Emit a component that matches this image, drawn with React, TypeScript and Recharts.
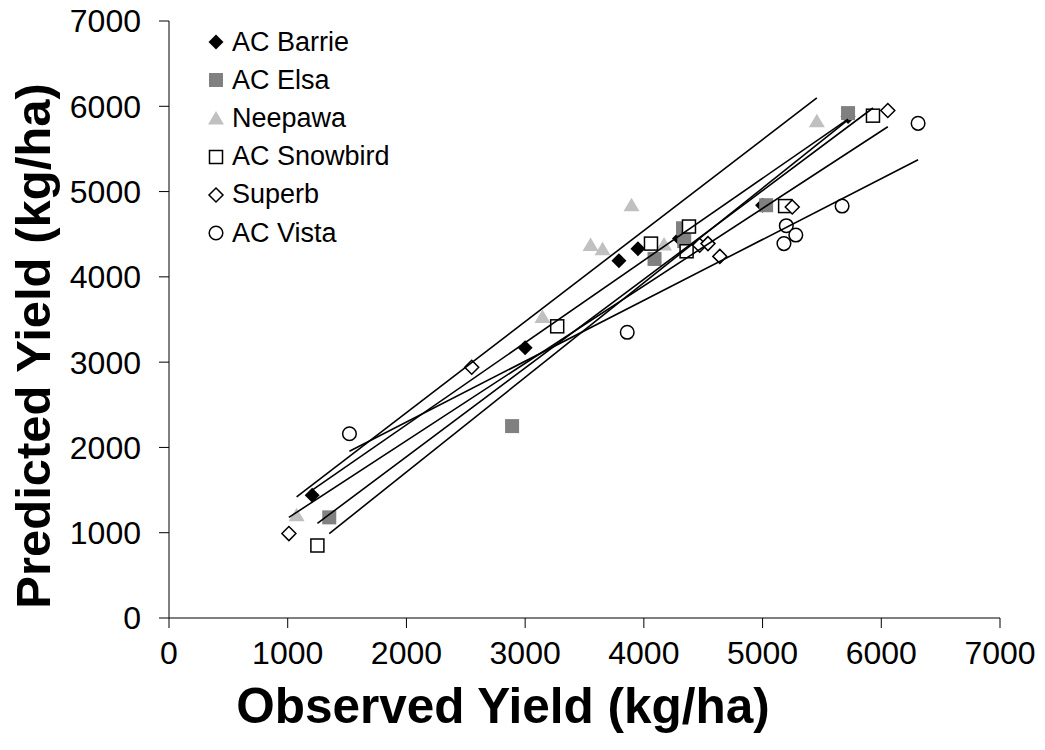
import React from 'react';
import { ScatterChart, Scatter, XAxis, YAxis, Label } from 'recharts';

// observed vs predicted yield, kg/ha
const axisTicks = [0, 1000, 2000, 3000, 4000, 5000, 6000, 7000];

const barrie = [
  { x: 1206, y: 1440 }, { x: 3000, y: 3170 }, { x: 3790, y: 4190 }, { x: 3950, y: 4330 },
  { x: 4300, y: 4450 }, { x: 5000, y: 4840 }, { x: 5720, y: 5880 },
];
const elsa = [
  { x: 1350, y: 1180 }, { x: 2890, y: 2250 }, { x: 4090, y: 4210 }, { x: 4340, y: 4420 },
  { x: 4330, y: 4570 }, { x: 5030, y: 4840 }, { x: 5720, y: 5920 },
];
const neepawa = [
  { x: 1075, y: 1210 }, { x: 3146, y: 3535 }, { x: 3551, y: 4378 }, { x: 3652, y: 4331 },
  { x: 3896, y: 4846 }, { x: 4170, y: 4385 }, { x: 5457, y: 5830 },
];
const snowbird = [
  { x: 1250, y: 850 }, { x: 3270, y: 3420 }, { x: 4060, y: 4390 }, { x: 4380, y: 4590 },
  { x: 4360, y: 4300 }, { x: 5190, y: 4830 }, { x: 5930, y: 5890 },
];
const superb = [
  { x: 1010, y: 990 }, { x: 2550, y: 2940 }, { x: 4470, y: 4370 }, { x: 4540, y: 4390 },
  { x: 4640, y: 4240 }, { x: 5250, y: 4820 }, { x: 6055, y: 5950 },
];
const vista = [
  { x: 1520, y: 2160 }, { x: 3860, y: 3350 }, { x: 5180, y: 4390 }, { x: 5200, y: 4600 },
  { x: 5280, y: 4490 }, { x: 5670, y: 4830 }, { x: 6310, y: 5800 },
];

// linear trend lines (start / end of each fit)
const barrieFit = [{ x: 1206, y: 1500 }, { x: 5720, y: 5850 }];
const elsaFit = [{ x: 1350, y: 990 }, { x: 5720, y: 5840 }];
const neepawaFit = [{ x: 1075, y: 1420 }, { x: 5457, y: 6098 }];
const snowbirdFit = [{ x: 1250, y: 1110 }, { x: 5930, y: 5980 }];
const superbFit = [{ x: 1010, y: 1180 }, { x: 6055, y: 5760 }];
const vistaFit = [{ x: 1520, y: 1955 }, { x: 6310, y: 5373 }];

const FONT = '"Liberation Sans", Arial, sans-serif';

type Kind = 'diamondFilled' | 'squareFilled' | 'triangle' | 'squareOpen' | 'diamondOpen' | 'circle';

const series: { name: string; data: { x: number; y: number }[]; fit: { x: number; y: number }[]; kind: Kind }[] = [
  { name: 'AC Barrie', data: barrie, fit: barrieFit, kind: 'diamondFilled' },
  { name: 'AC Elsa', data: elsa, fit: elsaFit, kind: 'squareFilled' },
  { name: 'Neepawa', data: neepawa, fit: neepawaFit, kind: 'triangle' },
  { name: 'AC Snowbird', data: snowbird, fit: snowbirdFit, kind: 'squareOpen' },
  { name: 'Superb', data: superb, fit: superbFit, kind: 'diamondOpen' },
  { name: 'AC Vista', data: vista, fit: vistaFit, kind: 'circle' },
];

const Marker = ({ cx, cy, kind }: { cx: number; cy: number; kind: Kind }) => {
  if (cx == null || cy == null) return <g />;
  switch (kind) {
    case 'diamondFilled':
      return <path d={`M${cx},${cy - 7.5}L${cx + 7.5},${cy}L${cx},${cy + 7.5}L${cx - 7.5},${cy}Z`} fill="#000" />;
    case 'squareFilled':
      return <rect x={cx - 7} y={cy - 7} width={14} height={14} fill="#808080" />;
    case 'triangle':
      return <path d={`M${cx},${cy - 7}L${cx + 8},${cy + 6.5}L${cx - 8},${cy + 6.5}Z`} fill="#c0c0c0" />;
    case 'squareOpen':
      return <rect x={cx - 6.5} y={cy - 6.5} width={13} height={13} fill="#fff" stroke="#000" strokeWidth={1.5} />;
    case 'diamondOpen':
      return (
        <path d={`M${cx},${cy - 7}L${cx + 7},${cy}L${cx},${cy + 7}L${cx - 7},${cy}Z`} fill="#fff" stroke="#000" strokeWidth={1.5} />
      );
    default:
      return <circle cx={cx} cy={cy} r={6.8} fill="#fff" stroke="#000" strokeWidth={1.5} />;
  }
};

const tickStyle = { fontSize: 32, fontFamily: FONT, fill: '#000' };

export default function App() {
  return (
    <div style={{ position: 'relative', width: 1045, height: 750, background: '#fff' }}>
      <style>{`body{margin:0;}`}</style>
      <ScatterChart width={1045} height={750} margin={{ top: 21, right: 45, bottom: 0, left: 0 }}>
        <XAxis
          type="number"
          dataKey="x"
          domain={[0, 7000]}
          ticks={axisTicks}
          interval={0}
          height={132}
          tickSize={10}
          tickMargin={13}
          tick={tickStyle}
          axisLine={{ stroke: '#000' }}
          tickLine={{ stroke: '#000' }}
        >
          <Label
            content={() => (
              <text x={503} y={723} textAnchor="middle" fontFamily={FONT} fontSize={49.5} fontWeight="bold" fill="#000">
                Observed Yield (kg/ha)
              </text>
            )}
          />
        </XAxis>
        <YAxis
          type="number"
          dataKey="y"
          domain={[0, 7000]}
          ticks={axisTicks}
          interval={0}
          width={169}
          tickSize={10}
          tickMargin={18}
          tick={tickStyle}
          axisLine={{ stroke: '#000' }}
          tickLine={{ stroke: '#000' }}
        >
          <Label
            content={() => (
              <text
                x={50}
                y={346}
                transform="rotate(-90 50 346)"
                textAnchor="middle"
                fontFamily={FONT}
                fontSize={49}
                fontWeight="bold"
                fill="#000"
              >
                Predicted Yield (kg/ha)
              </text>
            )}
          />
        </YAxis>

        {series.map((s) => (
          <Scatter
            key={s.name}
            name={s.name}
            data={s.data}
            isAnimationActive={false}
            shape={(p: any) => <Marker cx={p.cx} cy={p.cy} kind={s.kind} />}
          />
        ))}

        {series.map((s) => (
          <Scatter
            key={s.name + '-fit'}
            data={s.fit}
            isAnimationActive={false}
            line={{ stroke: '#000', strokeWidth: 1.6 }}
            shape={() => <g />}
            legendType="none"
          />
        ))}
      </ScatterChart>

      {/* legend */}
      <div style={{ position: 'absolute', left: 0, top: 0, fontFamily: FONT, fontSize: 27, color: '#000' }}>
        {series.map((s, i) => (
          <div
            key={s.name}
            style={{ position: 'absolute', left: 206, top: 42 + i * 38.2 - 16, height: 32, display: 'flex', alignItems: 'center', whiteSpace: 'nowrap' }}
          >
            <svg width={20} height={20} style={{ marginRight: 6 }}>
              <Marker cx={10} cy={10} kind={s.kind} />
            </svg>
            <span>{s.name}</span>
          </div>
        ))}
      </div>
    </div>
  );
}
